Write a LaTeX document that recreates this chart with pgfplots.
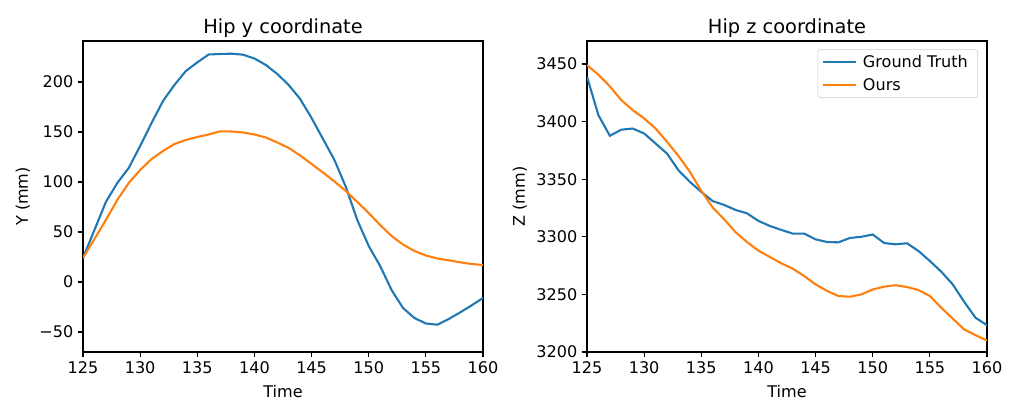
\documentclass[border=0pt]{standalone}
\usepackage{pgfplots}
\pgfplotsset{compat=1.18}
\usepackage{fontspec}
\setmainfont{DejaVu Sans}
\definecolor{tabblue}{HTML}{1F77B4}
\definecolor{taborange}{HTML}{FF7F0E}
\pgfplotsset{
  mpl/.style={
    scale only axis, width=288bp, height=223.92bp,
    xmin=125, xmax=160, xtick={125,130,...,160},
    tick align=outside, tick pos=left,
    major tick length=3.5bp,
    every tick/.style={black, line width=0.8bp},
    axis line style={line width=0.8bp},
    /pgf/number format/assume math mode=true,
    /pgf/number format/1000 sep={},
    tick label style={font=\fontsize{11.6}{13}\selectfont},
    label style={font=\fontsize{11.6}{13}\selectfont},
    xlabel style={yshift=-1.5bp},
    title style={font=\fontsize{14}{16}\selectfont, yshift=-7bp},
    xlabel={Time},
    every axis plot/.append style={line width=1.5bp, mark=none},
  }
}
\begin{document}
\begin{tikzpicture}
\path (0,0) rectangle (732.96bp,300.96bp);
\begin{axis}[mpl, at={(59.76bp,47.52bp)}, anchor=south west,
  ymin=-70, ymax=241, ytick={-50,0,50,100,150,200},
  yticklabels={−50,0,50,100,150,200},
  ylabel={Y (mm)}, title={Hip y coordinate}]
\addplot[tabblue] coordinates {
(125,24) (126,52) (127,80) (128,99) (129,114) (130,136) (131,159) (132,181)
(133,197) (134,211) (135,219.6) (136,227.5) (137,228) (138,228.3) (139,227.3)
(140,223.5) (141,217) (142,208) (143,197) (144,183) (145,164) (146,143)
(147,122) (148,95) (149,62) (150,36) (151,16) (152,-8) (153,-26) (154,-36)
(155,-41.5) (156,-42.7) (157,-37) (158,-30.4) (159,-23.4) (160,-16)
};
\addplot[taborange] coordinates {
(125,24) (126,43) (127,62) (128,82) (129,99) (130,112) (131,123) (132,131)
(133,138) (134,142) (135,145) (136,147.5) (137,150.7) (138,150.5) (139,149.5)
(140,147.5) (141,144.5) (142,139.5) (143,134) (144,126.5) (145,118) (146,109.5)
(147,100.5) (148,91) (149,80) (150,69) (151,57) (152,46) (153,37.5) (154,31)
(155,26.5) (156,23.5) (157,21.7) (158,19.7) (159,18) (160,17)
};
\end{axis}
\begin{axis}[mpl, at={(422.64bp,47.52bp)}, anchor=south west,
  ymin=3200, ymax=3470, ytick={3200,3250,...,3450},
  ylabel={Z (mm)}, title={Hip z coordinate},
  legend style={at={(0.977,0.974)}, anchor=north east, draw=black!20,
    rounded corners=2pt, font=\fontsize{11.6}{13}\selectfont,
    inner xsep=3bp, inner ysep=2bp, row sep=2.5bp,
    nodes={inner xsep=4bp}},
  legend image code/.code={\draw[#1] (0bp,0bp) -- (24bp,0bp);},
  legend cell align=left]
\addplot[tabblue] coordinates {
(125,3439) (126,3405.6) (127,3387.7) (128,3393) (129,3394) (130,3389.7) (131,3381)
(132,3372.3) (133,3357.8) (134,3347.7) (135,3339) (136,3331) (137,3327.7)
(138,3323.3) (139,3320.4) (140,3313.8) (141,3309.4) (142,3306) (143,3302.8)
(144,3302.8) (145,3297.8) (146,3295.5) (147,3295.2) (148,3299) (149,3300)
(150,3302) (151,3294.6) (152,3293.5) (153,3294.4) (154,3287.7) (155,3279)
(156,3269.7) (157,3258.7) (158,3243.6) (159,3229.7) (160,3223.3)
};
\addlegendentry{Ground Truth}
\addplot[taborange] coordinates {
(125,3449) (126,3440.7) (127,3430.6) (128,3418.7) (129,3410) (130,3402.8) (131,3394)
(132,3382.5) (133,3370.3) (134,3356.4) (135,3340) (136,3325.4) (137,3315.2)
(138,3304) (139,3295.5) (140,3288) (141,3282.5) (142,3277) (143,3272.3)
(144,3266) (145,3258.7) (146,3253) (147,3248.6) (148,3248) (149,3250)
(150,3254.3) (151,3256.7) (152,3258) (153,3256.4) (154,3253.8) (155,3248.6)
(156,3238.4) (157,3229) (158,3219.6) (159,3214.6) (160,3210)
};
\addlegendentry{Ours}
\end{axis}
\end{tikzpicture}
\end{document}
